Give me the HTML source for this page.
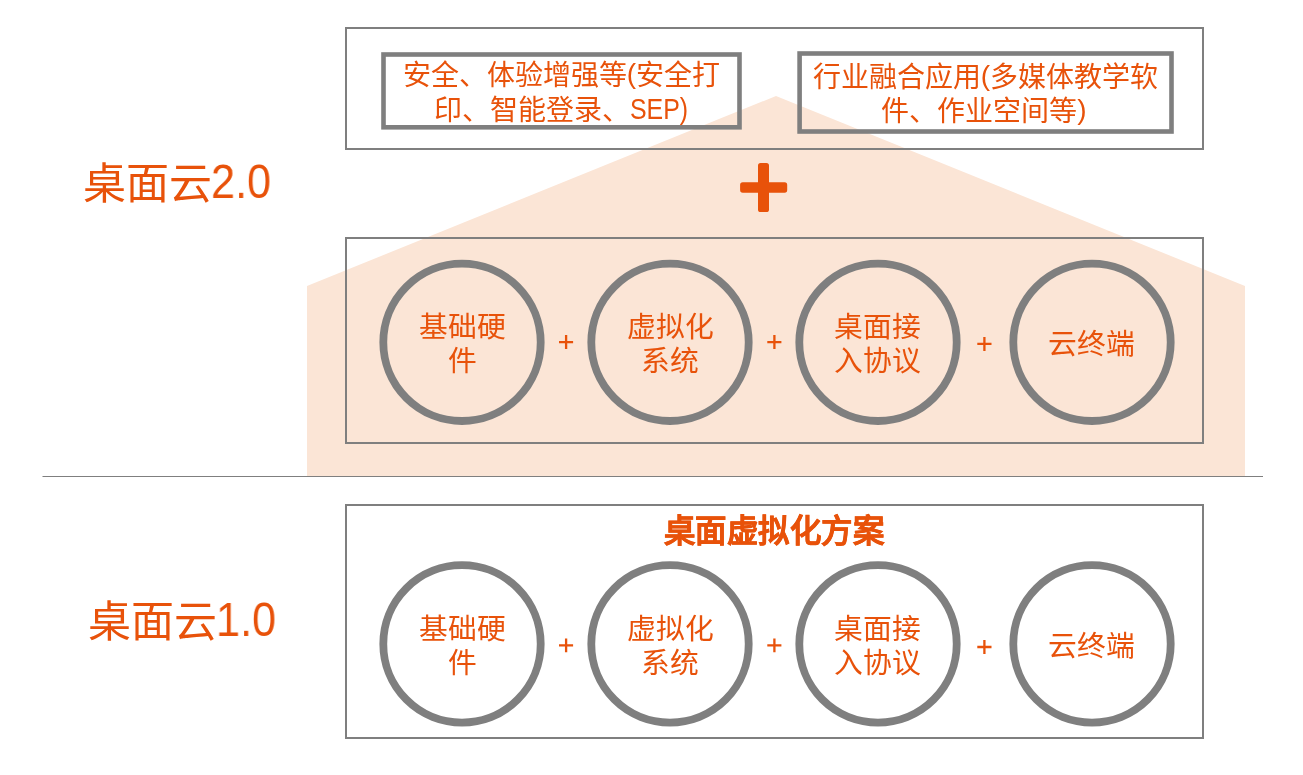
<!DOCTYPE html>
<html lang="zh-CN">
<head>
<meta charset="utf-8">
<style>
html,body{margin:0;padding:0;background:#fff;}
body{width:1303px;height:775px;position:relative;overflow:hidden;font-family:"Liberation Sans",sans-serif;color:#E8520A;}
svg{position:absolute;left:0;top:0;}
.dg{font-size:48px;transform:scaleX(0.9);transform-origin:0 0;}
.t{position:absolute;white-space:nowrap;will-change:transform;text-align:center;line-height:1;}
</style>
</head>
<body>
<svg width="1303" height="775" viewBox="0 0 1303 775">
  <polygon points="307,286 776,96 1245,286 1245,476 307,476" fill="#FBE5D6"/>
  <line x1="42.5" y1="476.5" x2="1263" y2="476.5" stroke="#7F7F7F" stroke-width="1.2"/>
  <rect x="346" y="28" width="857" height="121" fill="none" stroke="#7F7F7F" stroke-width="2"/>
  <rect x="383.5" y="54.5" width="356" height="72.8" fill="none" stroke="#7F7F7F" stroke-width="4.6"/>
  <rect x="799.6" y="53.5" width="371.9" height="78" fill="none" stroke="#7F7F7F" stroke-width="4.6"/>
  <g fill="#E8520A">
    <rect x="740.1" y="182.3" width="47.1" height="10.4" rx="2.6"/>
    <rect x="758" y="162.9" width="11" height="49.1" rx="2.6"/>
  </g>
  <rect x="346" y="238" width="857" height="205" fill="none" stroke="#7F7F7F" stroke-width="2"/>
  <rect x="346" y="505" width="857" height="233" fill="none" stroke="#7F7F7F" stroke-width="2"/>
  <g fill="none" stroke="#7F7F7F" stroke-width="7.8">
    <circle cx="462" cy="342.3" r="78.7"/>
    <circle cx="670" cy="342.3" r="78.7"/>
    <circle cx="878" cy="342.3" r="78.7"/>
    <circle cx="1092" cy="342.3" r="78.7"/>
    <circle cx="462" cy="643.9" r="78.7"/>
    <circle cx="670" cy="643.9" r="78.7"/>
    <circle cx="878" cy="643.9" r="78.7"/>
    <circle cx="1092" cy="643.9" r="78.7"/>
  </g>
  <g fill="none" stroke="#E8520A" stroke-width="2.3">
    <path d="M559 342.05H573.1M566.1 335V349"/>
    <path d="M767.3 342.05H781.4M774.4 335V349"/>
    <path d="M977.3 343.9H991.5M984.4 337V351"/>
    <path d="M559 645.4H573.1M566.1 638.6V652.2"/>
    <path d="M767.3 645.4H781.4M774.4 638.6V652.2"/>
    <path d="M977.3 647H991.5M984.4 640V654"/>
  </g>
</svg>

<div class="t" style="left:83px;top:163px;font-size:43px;">桌面云</div>
<div class="t dg" style="left:211px;top:158px;">2.0</div>
<div class="t" style="left:88px;top:601px;font-size:43px;">桌面云</div>
<div class="t dg" style="left:216px;top:596px;">1.0</div>

<div class="t" style="left:381px;top:59px;width:361px;font-size:28px;line-height:34.4px;">安全、体验增强等<span style="position:relative;top:-2px">(</span>安全打<br>印、智能登录、<span style="display:inline-block;font-size:30px;transform:scaleX(0.83);transform-origin:0 0;margin-right:-11.9px;position:relative;top:-1px">SEP)</span></div>
<div class="t" style="left:797px;top:61.3px;width:377px;font-size:28px;line-height:34.4px;">行业融合应用<span style="position:relative;top:-2px">(</span>多媒体教学软<br><span style="position:relative;left:-1.6px">件、作业空间等<span style="position:relative;top:-2px">)</span></span></div>

<div class="t" style="left:382px;top:310px;width:160px;font-size:28.8px;line-height:34.4px;">基础硬<br>件</div>
<div class="t" style="left:590px;top:310px;width:160px;font-size:28.8px;line-height:34.4px;">虚拟化<br>系统</div>
<div class="t" style="left:797px;top:310px;width:160px;font-size:28.8px;line-height:34.4px;">桌面接<br>入协议</div>
<div class="t" style="left:1011px;top:327px;width:160px;font-size:28.8px;line-height:34.4px;">云终端</div>

<div class="t" style="left:574px;top:515.5px;width:400px;font-size:31.4px;letter-spacing:0.5px;font-weight:bold;-webkit-text-stroke:0.5px #E8520A;">桌面虚拟化方案</div>

<div class="t" style="left:382px;top:612px;width:160px;font-size:28.8px;line-height:34.4px;">基础硬<br>件</div>
<div class="t" style="left:590px;top:612px;width:160px;font-size:28.8px;line-height:34.4px;">虚拟化<br>系统</div>
<div class="t" style="left:797px;top:612px;width:160px;font-size:28.8px;line-height:34.4px;">桌面接<br>入协议</div>
<div class="t" style="left:1011px;top:629px;width:160px;font-size:28.8px;line-height:34.4px;">云终端</div>
</body>
</html>
